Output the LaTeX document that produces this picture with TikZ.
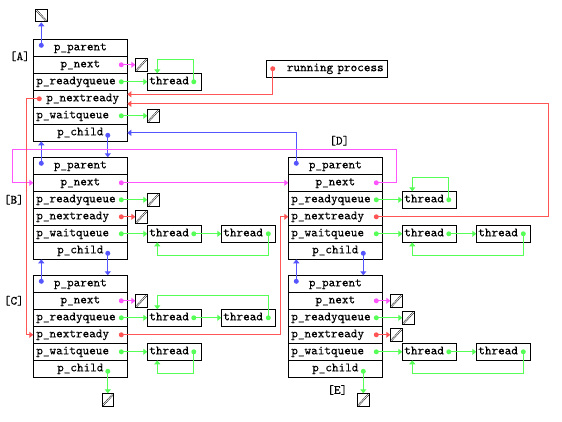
\documentclass[tikz,border=0pt]{standalone}
\usepackage{fontspec}
\setmonofont{lmmono10-regular}[Extension=.otf, FakeBold=0.3]
\usetikzlibrary{arrows.meta, positioning, calc}

\definecolor{pblue}{RGB}{85,85,255}
\definecolor{pmagenta}{RGB}{255,85,255}
\definecolor{pgreen}{RGB}{85,255,85}
\definecolor{pred}{RGB}{255,85,85}

\begin{document}
\begin{tikzpicture}[x=1pt, y=-1pt,
    font=\ttfamily\fontsize{12.6}{13}\selectfont,
    field/.style={draw, line width=0.9pt, outer sep=0pt, inner xsep=3pt, inner ysep=0pt,
        text width=88pt, minimum height=17pt, text height=7.5pt, text depth=2.5pt},
    thread/.style={draw, line width=0.9pt, outer sep=0pt, inner xsep=2pt, inner ysep=0pt,
        text width=50pt, align=left, minimum height=17pt, text height=7.5pt, text depth=2.5pt},
    nullbox/.style={draw, line width=0.9pt, inner sep=0pt, minimum width=11.5pt, minimum height=12.5pt,
        path picture={\draw[double, double distance=0.7pt, line width=0.45pt]
            (path picture bounding box.south west) -- (path picture bounding box.north east);}},
    nullback/.style={nullbox,
        path picture={\draw[double, double distance=0.7pt, line width=0.45pt]
            (path picture bounding box.north west) -- (path picture bounding box.south east);}},
    ptr/.style={line width=1pt, -{Triangle[length=4pt, width=6pt]}},
    ptrdot/.style={circle, fill, inner sep=0pt, minimum size=5pt},
]
    \useasboundingbox (0,0) rectangle (562,422);

    % process blocks
    \foreach \b/\x/\y/\ind in {A/33.3/39.3/10pt, B/33.3/157.3/0pt, C/33.3/275.3/0pt,
                              D/288.3/157.3/0pt, E/288.3/275.3/0pt}{
        \node[field, align=center, anchor=north west] (\b-parent) at (\x,\y) {p\_parent};
        \node[field, align=center, below=0pt of \b-parent] (\b-next) {p\_next};
        \node[field, align=left, below=0pt of \b-next] (\b-ready) {p\_readyqueue};
        \node[field, align=left, below=0pt of \b-ready] (\b-nextready) {\hspace*{\ind}p\_nextready};
        \node[field, align=left, below=0pt of \b-nextready] (\b-wait) {p\_waitqueue};
        \node[field, align=center, below=0pt of \b-wait] (\b-child) {p\_child};
    }

    \node[anchor=east] (labA) at (A-parent.south west) {[A]};
    \node[anchor=east] (labB) at ([xshift=-6pt]B-ready.west) {[B]};
    \node[anchor=east] (labC) at ([xshift=-6pt]C-next.west) {[C]};
    \node (labD) at ([xshift=4pt, yshift=16.6pt]D-parent.north) {[D]};
    \node (labE) at ([xshift=2pt, yshift=-12.7pt]E-child.south) {[E]};

    \node[draw, line width=0.9pt, text width=113pt, inner xsep=4pt, inner ysep=0pt, minimum height=17pt,
        align=right, text height=7.5pt, text depth=2.5pt] (run) at (327.2,68.7) {running process};

    % threads and null pointers
    \node[nullback, above=17pt of A-parent.north west, xshift=8pt] (A-up) {};
    \node[nullbox, right=8pt of A-next] (A-nextnull) {};
    \node[thread, right=20pt of A-ready] (A-t1) {thread};
    \node[nullbox, right=20pt of A-wait] (A-waitnull) {};

    \node[nullbox, right=20pt of B-ready] (B-readynull) {};
    \node[nullbox, right=8pt of B-nextready] (B-nrnull) {};
    \node[thread, right=20pt of B-wait] (B-t1) {thread};
    \node[thread, right=20pt of B-t1] (B-t2) {thread};

    \node[nullbox, right=8pt of C-next] (C-nextnull) {};
    \node[thread, right=20pt of C-ready] (C-t1) {thread};
    \node[thread, right=20pt of C-t1] (C-t2) {thread};
    \node[thread, right=20pt of C-wait] (C-t3) {thread};
    \node[nullbox, below=16pt of C-child.south east, xshift=-19.5pt] (C-childnull) {};

    \node[thread, right=20pt of D-ready] (D-t1) {thread};
    \node[thread, right=20pt of D-wait] (D-t2) {thread};
    \node[thread, right=20pt of D-t2] (D-t3) {thread};

    \node[nullbox, right=8pt of E-next] (E-nextnull) {};
    \node[nullbox, right=20pt of E-ready] (E-readynull) {};
    \node[nullbox, right=8pt of E-nextready] (E-nrnull) {};
    \node[thread, right=20pt of E-wait] (E-t1) {thread};
    \node[thread, right=20pt of E-t1] (E-t2) {thread};
    \node[nullbox, below=16pt of E-child.south east, xshift=-19pt] (E-childnull) {};

    % parent / child
    \draw[ptr, pblue] ([xshift=8pt, yshift=2.5pt]A-parent.west) node[ptrdot] {} -- (A-up);
    \draw[ptr, pblue] ([xshift=-19.5pt, yshift=-2.5pt]A-child.east) node[ptrdot] {} -- ([xshift=-19.5pt]B-parent.north east);
    \draw[ptr, pblue] ([xshift=8pt, yshift=2.5pt]B-parent.west) node[ptrdot] {} -- ([xshift=8pt]A-child.south west);
    \draw[ptr, pblue] ([xshift=-19.5pt, yshift=-2.5pt]B-child.east) node[ptrdot] {} -- ([xshift=-19.5pt]C-parent.north east);
    \draw[ptr, pblue] ([xshift=8pt, yshift=2.5pt]C-parent.west) node[ptrdot] {} -- ([xshift=8pt]B-child.south west);
    \draw[ptr, pblue] ([xshift=8pt, yshift=2.5pt]D-parent.west) node[ptrdot] {} |- (A-child.east);
    \draw[ptr, pblue] ([xshift=-19pt, yshift=-2.5pt]D-child.east) node[ptrdot] {} -- ([xshift=-19pt]E-parent.north east);
    \draw[ptr, pblue] ([xshift=8pt, yshift=2.5pt]E-parent.west) node[ptrdot] {} -- ([xshift=8pt]D-child.south west);

    % siblings
    \draw[ptr, pmagenta] ([xshift=-6pt]A-next.east) node[ptrdot] {} -- (A-nextnull);
    \draw[ptr, pmagenta] ([xshift=-6pt]B-next.east) node[ptrdot] {} -- (D-next.west);
    \draw[ptr, pmagenta] ([xshift=-6pt]D-next.east) node[ptrdot] {}
        -| ([xshift=14.5pt, yshift=7.3pt]D-parent.north east)
        -| ([xshift=-21pt]B-next.west) -- (B-next.west);
    \draw[ptr, pmagenta] ([xshift=-6pt]C-next.east) node[ptrdot] {} -- (C-nextnull);
    \draw[ptr, pmagenta] ([xshift=-6pt]E-next.east) node[ptrdot] {} -- (E-nextnull);

    % ready list
    \draw[ptr, pred] ([xshift=6.5pt]run.west) node[ptrdot] {} |- ([yshift=4.5pt]A-nextready.east);
    \draw[ptr, pred] ([xshift=-6pt]D-nextready.east) node[ptrdot] {} -- ++(172,0)
        |- ([yshift=-5pt]A-nextready.east);
    \draw[ptr, pred] ([xshift=6pt]A-nextready.west) node[ptrdot] {}
        -| ([xshift=-7pt]C-nextready.west) -- (C-nextready.west);
    \draw[ptr, pred] ([xshift=-6pt]C-nextready.east) node[ptrdot] {}
        -| ([xshift=-7.5pt]D-nextready.west) -- (D-nextready.west);
    \draw[ptr, pred] ([xshift=-6pt]B-nextready.east) node[ptrdot] {} -- (B-nrnull);
    \draw[ptr, pred] ([xshift=-6pt]E-nextready.east) node[ptrdot] {} -- (E-nrnull);

    % thread queues
    \draw[ptr, pgreen] ([xshift=-6pt]A-ready.east) node[ptrdot] {} -- (A-t1);
    \draw[ptr, pgreen] ([xshift=-7.5pt]A-t1.east) node[ptrdot] {} -- ++(0,-22) -| ([xshift=10pt]A-t1.north west);
    \draw[ptr, pgreen] ([xshift=-6pt]A-wait.east) node[ptrdot] {} -- (A-waitnull);

    \draw[ptr, pgreen] ([xshift=-6pt]B-ready.east) node[ptrdot] {} -- (B-readynull);
    \draw[ptr, pgreen] ([xshift=-6pt]B-wait.east) node[ptrdot] {} -- (B-t1);
    \draw[ptr, pgreen] ([xshift=-7.5pt]B-t1.east) node[ptrdot] {} -- (B-t2);
    \draw[ptr, pgreen] ([xshift=-7pt]B-t2.east) node[ptrdot] {} -- ++(0,22) -| ([xshift=10pt]B-t1.south west);

    \draw[ptr, pgreen] ([xshift=-6pt]C-ready.east) node[ptrdot] {} -- (C-t1);
    \draw[ptr, pgreen] ([xshift=-7.5pt]C-t1.east) node[ptrdot] {} -- (C-t2);
    \draw[ptr, pgreen] ([xshift=-7pt]C-t2.east) node[ptrdot] {} -- ++(0,-22) -| ([xshift=10pt]C-t1.north west);
    \draw[ptr, pgreen] ([xshift=-6pt]C-wait.east) node[ptrdot] {} -- (C-t3);
    \draw[ptr, pgreen] ([xshift=-7.5pt]C-t3.east) node[ptrdot] {} -- ++(0,22) -| ([xshift=10pt]C-t3.south west);
    \draw[ptr, pgreen] ([xshift=-19.5pt, yshift=-2.5pt]C-child.east) node[ptrdot] {} -- (C-childnull);

    \draw[ptr, pgreen] ([xshift=-6pt]D-ready.east) node[ptrdot] {} -- (D-t1);
    \draw[ptr, pgreen] ([xshift=-7.5pt]D-t1.east) node[ptrdot] {} -- ++(0,-22) -| ([xshift=10pt]D-t1.north west);
    \draw[ptr, pgreen] ([xshift=-6pt]D-wait.east) node[ptrdot] {} -- (D-t2);
    \draw[ptr, pgreen] ([xshift=-7.5pt]D-t2.east) node[ptrdot] {} -- (D-t3);
    \draw[ptr, pgreen] ([xshift=-7pt]D-t3.east) node[ptrdot] {} -- ++(0,22) -| ([xshift=10pt]D-t2.south west);

    \draw[ptr, pgreen] ([xshift=-6pt]E-ready.east) node[ptrdot] {} -- (E-readynull);
    \draw[ptr, pgreen] ([xshift=-6pt]E-wait.east) node[ptrdot] {} -- (E-t1);
    \draw[ptr, pgreen] ([xshift=-7.5pt]E-t1.east) node[ptrdot] {} -- (E-t2);
    \draw[ptr, pgreen] ([xshift=-7pt]E-t2.east) node[ptrdot] {} -- ++(0,22) -| ([xshift=10pt]E-t1.south west);
    \draw[ptr, pgreen] ([xshift=-19pt, yshift=-2.5pt]E-child.east) node[ptrdot] {} -- (E-childnull);
\end{tikzpicture}
\end{document}
